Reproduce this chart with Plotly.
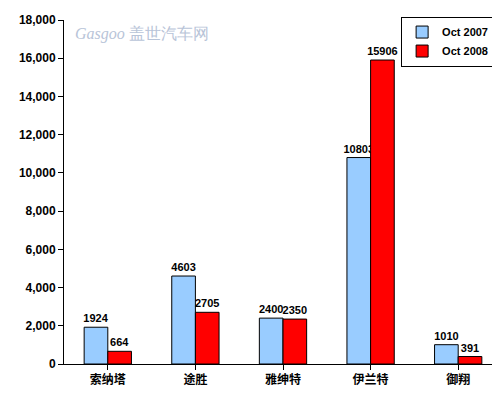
import plotly.graph_objects as go

categories = ["索纳塔", "途胜", "雅绅特", "伊兰特", "御翔"]
oct2007 = [1924, 4603, 2400, 10803, 1010]
oct2008 = [664, 2705, 2350, 15906, 391]

tf = dict(size=11, color="black", family="Liberation Sans")
fig = go.Figure()
fig.add_bar(name="<b>Oct 2007</b>", x=categories, y=oct2007, marker=dict(color="#99CCFF", line=dict(color="black", width=1)),
            text=[f"<b>{v}</b>" for v in oct2007], textposition="outside", cliponaxis=False,
            constraintext="none", textfont=tf)
fig.add_bar(name="<b>Oct 2008</b>", x=categories, y=oct2008, marker=dict(color="#FF0000", line=dict(color="black", width=1)),
            text=[f"<b>{v}</b>" for v in oct2008], textposition="outside", cliponaxis=False,
            constraintext="none", textfont=tf)

fig.update_layout(
    width=500, height=404, margin=dict(l=56, r=6, t=12, b=48),
    paper_bgcolor="white", plot_bgcolor="white",
    barmode="group", bargap=0.46, bargroupgap=0,
    font=dict(family="Liberation Sans", size=12, color="black"),
    legend=dict(x=0.982, y=1.01, xanchor="right", yanchor="top", bgcolor="white",
                bordercolor="black", borderwidth=1, font=dict(size=11),
                itemwidth=30, tracegroupgap=0),
    xaxis=dict(showline=True, linecolor="black", ticks="outside", tickcolor="black",
               tickfont=dict(family="Noto Sans CJK SC", size=12)),
    yaxis=dict(range=[0, 18000], dtick=2000, tickformat=",", showline=True, linecolor="black",
               ticks="outside", tickcolor="black", showgrid=False,
               tickfont=dict(size=12), tickprefix="<b>", ticksuffix="</b>"),
    annotations=[dict(text="<i>Gasgoo</i> 盖世汽车网", x=0.02, y=0.99, xref="paper", yref="paper",
                      xanchor="left", yanchor="top", showarrow=False,
                      font=dict(size=16, color="#B8C4D8", family="Liberation Serif"))],
)
fig.update_xaxes(tickvals=categories, ticktext=[f"<b>{c}</b>" for c in categories])
fig.write_html("out.html")
